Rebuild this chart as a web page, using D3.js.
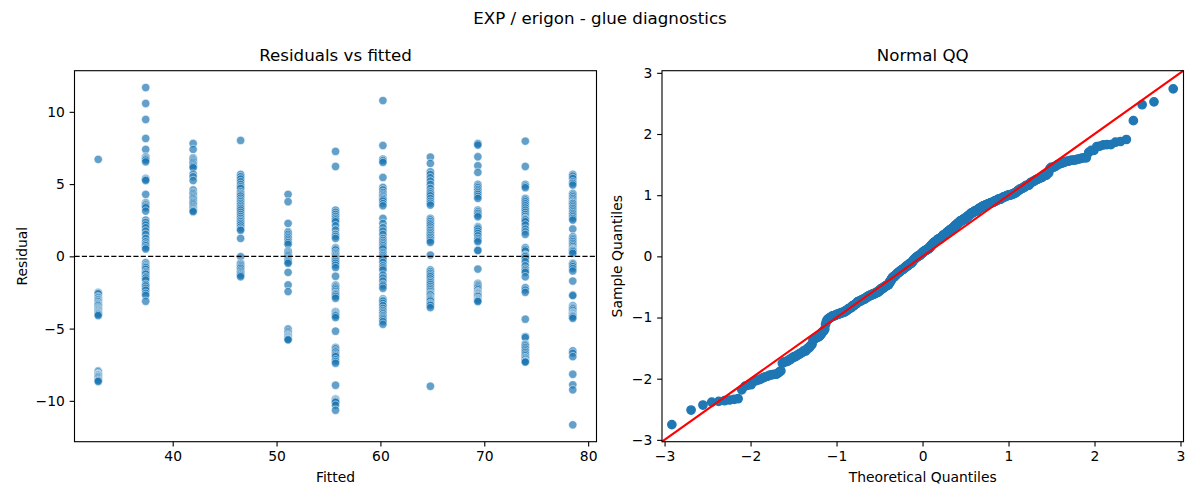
<!DOCTYPE html>
<html>
<head>
<meta charset="utf-8">
<title>EXP / erigon - glue diagnostics</title>
<script src="https://cdn.jsdelivr.net/npm/d3@7"></script>
<style>
    html, body { margin: 0; padding: 0; background: #fff; }
    svg { display: block; font-family: 'DejaVu Sans', 'Liberation Sans', sans-serif; }
</style>
</head>
<body>
<svg id="chart" width="1200" height="500"></svg>
<script>
/**
 * Residual diagnostics: residuals vs fitted (left) and a normal QQ plot (right).
 * The QQ panel is built from the same residuals, standardised and sorted.
 */

const suptitle = 'EXP / erigon - glue diagnostics';

// fitted values - the model only produces 11 distinct levels
const fittedLevels = [32.83, 37.40, 41.97, 46.54, 51.11, 55.68, 60.24, 64.81, 69.38, 73.95, 78.52];

// residuals at each fitted level (stacked points included)
const res01 = [6.71, -2.49, -2.55, -2.6, -2.79, -2.85, -2.95, -3.0, -3.09, -3.15, -3.25, -3.3, -3.36, -3.42,
    -3.52, -3.59, -3.65, -3.7, -3.75, -3.82, -3.87, -3.92, -3.97, -4.02, -4.10, -7.93, -8.0, -8.1, -8.16,
    -8.18, -8.2, -8.24, -8.3, -8.34, -8.4, -8.48, -8.55, -8.6, -8.66];
const res02 = [11.68, 10.58, 9.47, 8.16, 7.40, 6.89, 6.80, 6.73, 6.66, 6.54, 5.39, 5.31, 5.25, 4.29,
    3.71, 3.62, 3.55, 3.45, 3.36, 3.13, 2.51, 2.35, 2.17, 1.98, 1.75, 1.52, 1.24, 1.01, 0.85, 0.74, 0.60,
    0.51, -0.44, -0.60, -0.70, -0.78, -0.90, -1.06, -1.15, -1.24, -1.41, -1.50, -1.64, -1.94, -2.05, -2.21,
    -2.35, -2.56, -2.70, -3.11];
const res03 = [7.81, 7.40, 6.82, 6.74, 6.66, 6.58, 6.50, 6.40, 6.31, 6.22, 6.13, 5.69, 5.51, 5.25, 4.59,
    4.42, 4.33, 4.24, 4.15, 4.06, 3.98, 3.89, 3.80, 3.73, 3.64, 3.55, 3.45, 3.36, 3.28, 3.20, 3.15, 3.09];
const res04 = [8.02, 5.67, 5.51, 5.35, 5.16, 4.98, 4.82, 4.70, 4.47, 4.35, 4.26, 4.17, 4.03, 3.89, 3.78,
    3.66, 3.55, 3.43, 3.32, 3.20, 3.05, 2.90, 2.76, 2.63, 2.50, 2.40, 2.28, 2.17, 2.03, 1.89, 1.80, 1.24,
    -0.02, -0.48, -0.56, -0.65, -0.74, -0.83, -0.95, -1.06, -1.15, -1.24, -1.32, -1.41];
const res05 = [4.29, 3.78, 2.28, 1.71, 1.62, 1.52, 1.40, 1.29, 1.18, 1.06, 0.95, 0.83, 0.37, 0.29, 0.21,
    0.13, 0.05, -0.05, -0.14, -0.23, -0.32, -0.40, -0.48, -1.11, -1.98, -2.44, -5.02, -5.10, -5.21, -5.30,
    -5.39, -5.45, -5.50, -5.55, -5.60, -5.65, -5.70, -5.74, -5.78];
const res06 = [7.26, 6.22, 3.20, 3.05, 2.90, 2.76, 2.63, 2.52, 2.40, 2.12, 1.82, 1.52, 1.38, 1.24, 0.60,
    0.52, 0.44, 0.28, 0.18, 0.09, 0.0, -0.09, -0.17, -0.25, -0.36, -0.48, -0.62, -0.78, -1.38, -1.98, -2.05,
    -2.12, -2.21, -2.32, -2.44, -2.55, -2.6, -2.67, -2.78, -2.90, -3.82, -3.85, -3.88, -3.95, -4.01, -4.06,
    -4.12, -4.24, -5.18, -6.31, -6.40, -6.54, -6.62, -6.75, -6.85, -6.94, -7.15, -7.28, -7.40, -8.92,
    -9.86, -9.9, -9.95, -10.0, -10.05, -10.1, -10.3, -10.65];
const res07 = [10.78, 7.67, 6.73, 6.62, 6.50, 5.46, 4.77, 4.60, 4.42, 4.30, 4.19, 4.10, 4.01, 3.92, 3.82,
    3.65, 3.50, 2.63, 2.28, 1.98, 1.75, 1.52, 1.24, 1.10, 0.97, 0.85, 0.74, 0.62, 0.51, 0.28, 0.16, 0.05,
    -0.06, -0.18, -0.41, -0.65, -0.80, -0.94, -1.29, -1.50, -1.71, -1.94, -2.05, -2.21, -2.95, -3.05,
    -3.10, -3.25, -3.41, -3.60, -3.75, -3.87, -3.98, -4.10, -4.20, -4.29, -4.40, -4.52, -4.70];
const res08 = [6.87, 6.43, 5.85, 5.67, 5.44, 5.21, 4.98, 4.70, 4.47, 4.33, 4.19, 4.00, 3.82, 3.68, 3.55,
    2.63, 2.52, 2.40, 2.28, 2.17, 2.03, 1.89, 1.78, 1.66, 1.55, 1.43, 1.32, 1.20, 1.08, 0.97, 0.09, -0.94,
    -1.06, -1.18, -1.30, -1.41, -1.56, -1.71, -1.82, -1.94, -2.08, -2.21, -2.32, -2.44, -2.55, -2.62,
    -2.67, -2.80, -2.88, -2.95, -3.02, -3.10, -3.25, -3.32, -3.40, -3.55, -8.99];
const res09 = [7.81, 7.78, 7.70, 6.89, 6.27, 5.81, 4.98, 4.86, 4.75, 4.63, 4.52, 4.40, 4.29, 4.15, 4.01,
    3.20, 3.08, 2.97, 2.85, 2.74, 2.05, 1.97, 1.89, 1.74, 1.59, 1.42, 1.24, 1.12, 1.01, 0.44, 0.40, -0.88,
    -1.87, -1.95, -2.03, -2.12, -2.21, -2.32, -2.44, -2.50, -2.55, -2.6, -2.67, -2.72, -2.78, -2.90,
    -2.95, -3.01, -3.07, -3.13];
const res10 = [7.97, 6.22, 4.98, 4.86, 4.75, 4.01, 3.90, 3.78, 3.64, 3.50, 3.35, 3.20, 3.05, 2.90, 2.76,
    2.63, 2.58, 2.52, 2.40, 2.17, 1.89, 1.70, 1.52, 0.60, 0.48, 0.37, 0.09, 0.05, -0.02, -0.14, -0.37,
    -0.65, -0.88, -1.00, -1.11, -1.41, -2.17, -2.33, -2.49, -4.35, -5.55, -5.62, -6.08, -6.12, -6.20,
    -6.31, -6.42, -6.54, -6.65, -6.77, -6.88, -7.00, -7.05, -7.14, -7.24, -7.28, -7.32];
const res11 = [5.67, 5.55, 5.39, 5.16, 5.05, 4.93, 4.35, 4.24, 4.12, 4.00, 3.89, 3.78, 3.70, 3.66, 3.55,
    3.43, 3.32, 3.20, 3.08, 2.97, 2.86, 2.74, 2.62, 2.51, 1.89, 1.36, 1.24, 1.13, 1.02, 0.90, 0.78, 0.67,
    0.55, 0.48, 0.44, 0.40, 0.32, 0.21, -0.48, -0.52, -0.60, -0.71, -0.85, -1.01, -1.71, -2.67, -2.72,
    -3.41, -3.52, -3.58, -3.64, -3.75, -3.87, -3.93, -3.98, -4.05, -4.10, -4.14, -4.20, -4.29, -6.54,
    -6.70, -6.94, -8.16, -8.89, -9.24, -11.66];

const residualGroups = [res01, res02, res03, res04, res05, res06, res07, res08, res09, res10, res11];

// tick labels
const fittedTicks = [40, 50, 60, 70, 80];
const residualTicks = [-10, -5, 0, 5, 10];
const qqTicks = [-3, -2, -1, 0, 1, 2, 3];
const qqLimits = [-3.03, 3.035];

// matplotlib-ish look
const pt = 100 / 72;
const blue = '#1f77b4';
const tickLen = 3.5 * pt;
const tickPad = 3.5 * pt;
const tickFont = 10 * pt;
const titleFont = 12 * pt;

const panels = {
    left: { x0: 74.5, x1: 596.5, y0: 70.7, y1: 441.7 },
    right: { x0: 662, x1: 1183.5, y0: 70.7, y1: 441.7 },
};

// Acklam's rational approximation of the inverse normal CDF
function normInv(p) {
    const a = [-3.969683028665376e+01, 2.209460984245205e+02, -2.759285104469687e+02,
        1.383577518672690e+02, -3.066479806614716e+01, 2.506628277459239e+00];
    const b = [-5.447609879822406e+01, 1.615858368580409e+02, -1.556989798598866e+02,
        6.680131188771972e+01, -1.328068155305798e+01];
    const c = [-7.784894002430293e-03, -3.223964580411365e-01, -2.400758277161838e+00,
        -2.549671010229528e+00, 4.374664141464968e+00, 2.938163982698783e+00];
    const d = [7.784695709041462e-03, 3.224671290700398e-01, 2.445134137142996e+00,
        3.754408661907416e+00];
    const plow = 0.02425;
    if (p < plow) {
        const q = Math.sqrt(-2 * Math.log(p));
        return (((((c[0] * q + c[1]) * q + c[2]) * q + c[3]) * q + c[4]) * q + c[5]) /
            ((((d[0] * q + d[1]) * q + d[2]) * q + d[3]) * q + 1);
    }
    if (p > 1 - plow) {
        return -normInv(1 - p);
    }
    const q = p - 0.5;
    const r = q * q;
    return (((((a[0] * r + a[1]) * r + a[2]) * r + a[3]) * r + a[4]) * r + a[5]) * q /
        (((((b[0] * r + b[1]) * r + b[2]) * r + b[3]) * r + b[4]) * r + 1);
}

const svg = d3.select('#chart');

svg.append('text')
    .attr('x', 600)
    .attr('y', 24)
    .attr('text-anchor', 'middle')
    .attr('font-size', titleFont)
    .text(suptitle);

// pad a data extent by 5% each side, like matplotlib autoscaling
function padded(extent) {
    const m = (extent[1] - extent[0]) * 0.05;
    return [extent[0] - m, extent[1] + m];
}

function drawAxes(g, box, x, y, xTicks, yTicks, labels) {
    const w = box.x1 - box.x0;
    const h = box.y1 - box.y0;
    const fmt = d3.format('d');

    const xAxis = g.append('g')
        .attr('transform', `translate(0,${h})`)
        .call(d3.axisBottom(x).tickValues(xTicks).tickFormat(fmt)
            .tickSize(tickLen).tickPadding(tickPad).tickSizeOuter(0));
    const yAxis = g.append('g')
        .call(d3.axisLeft(y).tickValues(yTicks).tickFormat(fmt)
            .tickSize(tickLen).tickPadding(tickPad).tickSizeOuter(0));

    [xAxis, yAxis].forEach((ax) => {
        ax.select('.domain').remove();
        ax.selectAll('line').attr('stroke', '#000').attr('stroke-width', 0.8 * pt);
        ax.selectAll('text').attr('font-size', tickFont).attr('fill', '#000')
            .attr('font-family', "'DejaVu Sans', sans-serif");
    });

    g.append('rect')
        .attr('width', w)
        .attr('height', h)
        .attr('fill', 'none')
        .attr('stroke', '#000')
        .attr('stroke-width', 0.8 * pt);

    g.append('text')
        .attr('x', w / 2)
        .attr('y', -9.5)
        .attr('text-anchor', 'middle')
        .attr('font-size', titleFont)
        .text(labels.title);

    g.append('text')
        .attr('x', w / 2)
        .attr('y', h + 40.5)
        .attr('text-anchor', 'middle')
        .attr('font-size', tickFont)
        .text(labels.x);

    g.append('text')
        .attr('transform', `translate(${labels.yOffset},${h / 2}) rotate(-90)`)
        .attr('text-anchor', 'middle')
        .attr('font-size', tickFont)
        .text(labels.y);
}

// ---------- left: residuals vs fitted ----------
{
    const box = panels.left;
    const points = [];
    residualGroups.forEach((group, i) => {
        group.forEach((r) => points.push({ fitted: fittedLevels[i], resid: r }));
    });

    const x = d3.scaleLinear()
        .domain(padded(d3.extent(points, (d) => d.fitted)))
        .range([0, box.x1 - box.x0]);
    const y = d3.scaleLinear()
        .domain(padded(d3.extent(points, (d) => d.resid)))
        .range([box.y1 - box.y0, 0]);

    const g = svg.append('g').attr('transform', `translate(${box.x0},${box.y0})`);

    g.append('g')
        .selectAll('circle')
        .data(points)
        .join('circle')
        .attr('cx', (d) => x(d.fitted))
        .attr('cy', (d) => y(d.resid))
        .attr('r', 3 * pt)
        .attr('fill', blue)
        .attr('fill-opacity', 0.7)
        .attr('stroke', '#fff')
        .attr('stroke-opacity', 0.7)
        .attr('stroke-width', 0.75);

    // zero reference line
    g.append('line')
        .attr('x1', 0)
        .attr('x2', box.x1 - box.x0)
        .attr('y1', y(0))
        .attr('y2', y(0))
        .attr('stroke', '#000')
        .attr('stroke-width', 1 * pt)
        .attr('stroke-dasharray', `${3.7 * pt},${1.6 * pt}`);

    drawAxes(g, box, x, y, fittedTicks, residualTicks,
        { title: 'Residuals vs fitted', x: 'Fitted', y: 'Residual', yOffset: -48 });
}

// ---------- right: normal QQ ----------
{
    const box = panels.right;
    const all = residualGroups.flat();
    const mean = d3.mean(all);
    const sd = d3.deviation(all);
    const sample = all.map((r) => (r - mean) / sd).sort(d3.ascending);
    const n = sample.length;
    const qq = sample.map((s, i) => ({ theo: normInv((i + 1) / (n + 1)), samp: s }));

    const x = d3.scaleLinear().domain(qqLimits).range([0, box.x1 - box.x0]);
    const y = d3.scaleLinear().domain(qqLimits).range([box.y1 - box.y0, 0]);

    const g = svg.append('g').attr('transform', `translate(${box.x0},${box.y0})`);

    g.append('g')
        .selectAll('circle')
        .data(qq)
        .join('circle')
        .attr('cx', (d) => x(d.theo))
        .attr('cy', (d) => y(d.samp))
        .attr('r', 3 * pt)
        .attr('fill', blue)
        .attr('stroke', blue)
        .attr('stroke-width', 1 * pt);

    // 45 degree reference line
    g.append('line')
        .attr('x1', x(qqLimits[0]))
        .attr('y1', y(qqLimits[0]))
        .attr('x2', x(qqLimits[1]))
        .attr('y2', y(qqLimits[1]))
        .attr('stroke', '#ff0000')
        .attr('stroke-width', 1.5 * pt);

    drawAxes(g, box, x, y, qqTicks, qqTicks,
        { title: 'Normal QQ', x: 'Theoretical Quantiles', y: 'Sample Quantiles', yOffset: -40 });
}
</script>
</body>
</html>
